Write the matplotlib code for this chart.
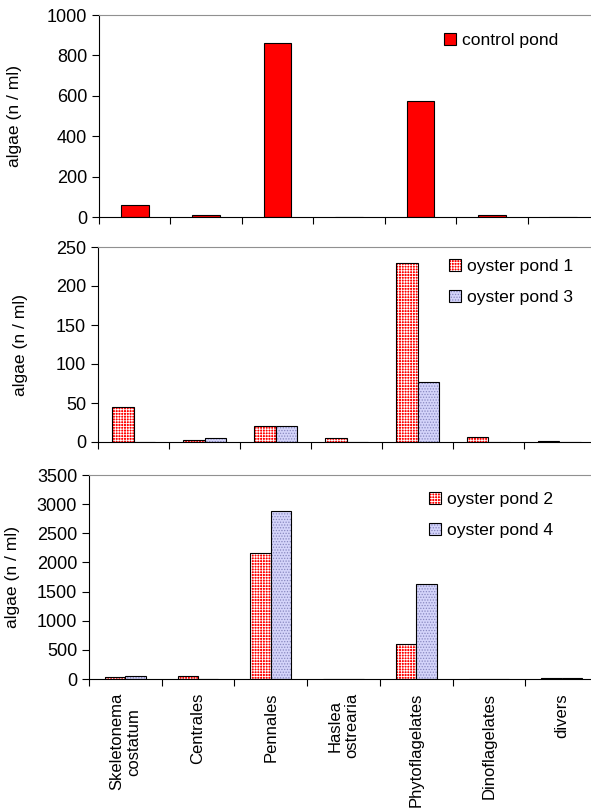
import numpy as np
import matplotlib
matplotlib.use('Agg')
import matplotlib.pyplot as plt
from matplotlib.legend_handler import HandlerTuple
from matplotlib.transforms import blended_transform_factory

categories = ['Skeletonema\ncostatum', 'Centrales', 'Pennales', 'Haslea\nostrearia',
              'Phytoflagelates', 'Dinoflagelates', 'divers']
control_pond = [57, 10, 860, 0, 574, 10, 0]
oyster_pond1 = [44.5, 3, 21, 5, 229, 7, 1]
oyster_pond3 = [0, 5, 21, 0, 77, 0, 0]
oyster_pond2 = [30, 50, 2156, 0, 595, 0, 15]
oyster_pond4 = [45, 0, 2882, 0, 1630, 0, 10]

plt.rcParams['font.family'] = ['Liberation Sans', 'DejaVu Sans']
plt.rcParams['font.size'] = 12.6
plt.rcParams['ytick.labelsize'] = 13
plt.rcParams['xtick.labelsize'] = 12
plt.rcParams['hatch.linewidth'] = 0.6

W, H = 591, 809
fig = plt.figure(figsize=(W / 100, H / 100), dpi=100)

def px_axes(left, top, right, bottom):
    return fig.add_axes([left / W, 1 - bottom / H, (right - left) / W, (bottom - top) / H])

x = np.arange(len(categories))

def hatched_bar(ax, pos, vals, width, face, hcol, hatch):
    b1 = ax.bar(pos, vals, width, color=face, edgecolor=hcol, linewidth=0, hatch=hatch)
    b2 = ax.bar(pos, vals, width, fill=False, edgecolor='black', linewidth=0.8)
    return b1, b2

def style(ax, ymax, step, label_x, show_labels=False):
    ax.set_xlim(-0.5, len(categories) - 0.5)
    ax.set_ylim(0, ymax)
    ax.set_yticks(np.arange(0, ymax + 1, step))
    ax.set_xticks(np.arange(-0.5, len(categories) - 0.4, 1))
    ax.set_xticklabels([])
    ax.set_xticks(x, minor=True)
    if show_labels:
        ax.set_xticklabels(categories, minor=True, rotation=90, va='top', ha='center',
                           multialignment='center')
    ax.tick_params(axis='x', which='minor', length=0, pad=10)
    ax.tick_params(axis='both', which='major', direction='out', length=5, width=0.8)
    ax.spines['right'].set_visible(False)
    ax.spines['top'].set_color('#909090')
    ax.set_ylabel('algae (n / ml)')
    ax.yaxis.set_label_coords(label_x / W, 0.5,
                              transform=blended_transform_factory(fig.transFigure, ax.transAxes))

leg_kw = dict(bbox_transform=fig.transFigure, loc='upper left', frameon=False, borderpad=0,
              borderaxespad=0, handlelength=0.7, handleheight=0.7, handletextpad=0.35,
              labelspacing=0.9)

# top: control pond
ax1 = px_axes(99, 15, 599, 217)
ax1.bar(x, control_pond, 0.39, color='#ff0000', edgecolor='black', linewidth=0.8,
        label='control pond')
style(ax1, 1000, 200, 22)
ax1.legend(bbox_to_anchor=(444 / W, 1 - 33 / H), **leg_kw)

red_hatch = '++++++'
blue_hatch = '......'

# middle: oyster ponds 1 and 3
ax2 = px_axes(98, 247, 595, 442)
w = 0.3
p1 = hatched_bar(ax2, x - w / 2, oyster_pond1, w, '#ff0000', 'white', red_hatch)
p3 = hatched_bar(ax2, x + w / 2, oyster_pond3, w, '#d4d4fa', '#8888c0', blue_hatch)
style(ax2, 250, 50, 28)
ax2.legend([p1, p3], ['oyster pond 1', 'oyster pond 3'],
           handler_map={tuple: HandlerTuple(ndivide=1)},
           bbox_to_anchor=(449 / W, 1 - 259 / H), **leg_kw)

# bottom: oyster ponds 2 and 4
ax3 = px_axes(89, 475, 598, 679)
w = 0.28
p2 = hatched_bar(ax3, x - w / 2, oyster_pond2, w, '#ff0000', 'white', red_hatch)
p4 = hatched_bar(ax3, x + w / 2, oyster_pond4, w, '#d4d4fa', '#8888c0', blue_hatch)
style(ax3, 3500, 500, 20, show_labels=True)
ax3.legend([p2, p4], ['oyster pond 2', 'oyster pond 4'],
           handler_map={tuple: HandlerTuple(ndivide=1)},
           bbox_to_anchor=(429 / W, 1 - 492 / H), **leg_kw)

fig.savefig('out.png', dpi=100)
